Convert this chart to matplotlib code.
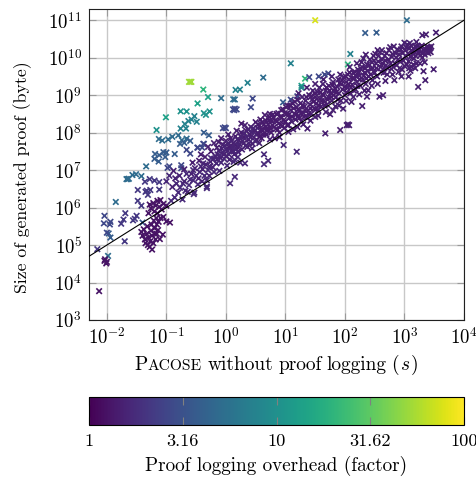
import numpy as np
import matplotlib
matplotlib.use('Agg')
import matplotlib.pyplot as plt
from matplotlib.colors import LogNorm

plt.rcParams['font.family'] = ['cmr10', 'DejaVu Sans']
plt.rcParams['mathtext.fontset'] = 'cm'
plt.rcParams['axes.formatter.use_mathtext'] = True

# all points as (log10 seconds, log10 bytes), one overhead factor per group
outlier_lime = [(-0.62, 9.355), (-0.60, 9.355), (-0.58, 9.355)]
outlier_yellow = [(1.5, 11.0)]
outlier_green = [(-0.38, 9.15), (1.33, 9.44), (2.05, 9.82)]
teal_a = [(-0.30, 8.95), (-1.008, 8.41), (-0.476, 8.78), (1.27, 9.25)]
teal_b = [(-1.165, 8.07), (-0.76, 8.57), (-0.66, 8.565), (-0.37, 8.52), (-0.274, 8.565), (-0.336, 8.475)]
teal_c = [(-0.53, 8.44), (-0.577, 8.35), (-0.63, 8.31), (-0.49, 8.29), (-0.69, 8.23), (-0.76, 8.11),
          (-0.67, 8.11), (0.163, 9.14), (0.235, 9.15), (0.365, 9.33), (1.27, 9.2), (1.09, 9.85), (2.09, 10.1)]
blue_a = [(-0.9, 7.89), (-0.97, 7.82), (-1.126, 7.83), (-1.07, 7.79), (-0.8, 7.93), (-0.74, 7.8), (-0.66, 7.84),
          (0.627, 9.47), (-0.08, 8.92), (0.123, 8.89), (0.15, 8.885), (-1.67, 6.76), (-1.65, 6.76), (-1.63, 6.77),
          (-1.57, 6.87), (-1.51, 6.89), (-1.42, 6.84), (-1.85, 6.15), (-1.34, 7.1), (-1.98, 4.71), (3.04, 11.0)]
blue_b = [(-0.77, 7.7), (-0.7, 7.73), (-0.6, 7.78), (-1.19, 7.43), (-1.05, 7.48), (-1.0, 7.47), (-1.12, 7.4),
          (-1.2, 7.3), (-1.02, 7.35), (-0.86, 7.43), (-1.13, 7.23), (-0.37, 8.0), (-0.286, 7.93), (2.34, 10.66),
          (2.53, 10.67), (0.96, 8.81), (-1.97, 5.31), (-1.94, 5.2), (-1.4, 5.6)]
indigo = [(0.45, 8.91), (0.12, 8.62), (0.15, 8.64), (0.18, 8.62), (0.14, 8.6), (0.42, 8.68), (-0.02, 8.14), (-0.05, 8.12),
          (0.0, 8.12), (-0.48, 7.6), (-0.37, 7.7), (-0.4, 7.6), (-0.95, 7.1), (-0.98, 7.06), (-0.75, 7.13), (-0.75, 7.05),
          (-0.66, 7.54), (-0.6, 7.44), (-2.04, 5.78), (-2.05, 5.58), (-1.94, 5.62), (-1.95, 5.55), (-2.0, 5.33),
          (-0.38, 7.7), (-0.47, 7.6), (1.2, 8.97), (1.09, 8.88), (1.4, 9.48), (1.56, 9.5), (1.72, 9.58), (1.66, 9.55)]
low_left = [(-1.69, 5.85), (-1.72, 5.68), (-1.76, 5.57), (-1.53, 5.7), (-1.5, 5.78), (-1.56, 5.66), (-1.7, 5.1),
            (-2.16, 4.89), (-1.48, 6.47), (-1.48, 6.18), (-1.42, 6.05), (-1.36, 6.69), (-1.28, 6.76), (-1.2, 6.72),
            (-1.12, 6.68), (-1.33, 6.45), (-1.27, 6.47), (-1.31, 6.34), (-1.35, 6.42), (-1.12, 6.48)]
cluster_dark = [(-2.03, 4.62), (-2.0, 4.55), (-2.01, 4.51), (-2.04, 4.58), (-2.13, 3.77), (-1.42, 5.35), (-1.40, 5.25),
                (-1.38, 5.42), (-1.36, 5.15), (-1.35, 5.05), (-1.33, 5.3), (-1.32, 5.5), (-1.31, 5.0), (-1.30, 5.2),
                (-1.28, 4.95), (-1.27, 5.1), (-1.26, 5.38), (-1.25, 5.55), (-1.24, 4.88), (-1.24, 5.25), (-1.22, 5.05),
                (-1.21, 5.65), (-1.20, 5.45), (-1.19, 5.3), (-1.18, 5.15), (-1.17, 5.72), (-1.16, 5.55), (-1.16, 5.3),
                (-1.14, 5.4), (-1.13, 5.62), (-1.11, 5.16), (-1.1, 5.72), (-1.06, 5.28), (-1.05, 5.75), (-1.0, 5.63),
                (-0.94, 5.6), (-1.3, 5.85), (-1.26, 5.98), (-1.2, 5.9), (-1.15, 5.85), (-1.28, 6.08), (-1.18, 6.05),
                (-1.12, 6.02), (-1.08, 5.95), (-1.05, 6.1), (-1.15, 6.18), (-1.1, 6.2), (-1.0, 6.05), (-1.22, 6.12)]
band_a = [(-1.0, 6.7), (-0.95, 6.85), (-0.92, 6.18), (-0.86, 6.27), (-0.83, 6.64), (-0.8, 6.4), (-0.77, 6.53), (-0.73, 6.22),
          (-0.72, 6.64), (-0.68, 6.45), (-0.66, 6.9), (-0.62, 6.6), (-0.6, 6.75), (-0.55, 6.73), (-0.55, 7.0), (-0.53, 6.4),
          (-0.5, 6.85), (-0.47, 6.62), (-0.44, 6.95), (-0.42, 7.1), (-0.38, 7.18), (-0.36, 6.85), (-0.32, 6.73), (-0.32, 6.56),
          (-0.3, 7.0), (-0.27, 7.1), (-0.25, 7.32), (-0.21, 7.3), (-0.2, 6.95), (-0.16, 7.18), (-0.14, 7.42), (-0.11, 6.98),
          (-0.1, 7.4), (-0.08, 7.2), (-0.05, 7.48), (-0.03, 7.3), (0.0, 7.55), (0.02, 7.12), (0.07, 6.65), (0.05, 7.42),
          (0.08, 7.62), (0.13, 7.22), (0.15, 6.82), (0.15, 7.27), (0.13, 7.5), (0.2, 7.35), (0.24, 7.2), (0.18, 7.68),
          (0.32, 7.18), (-0.54, 6.36), (-0.32, 6.52), (0.64, 7.42), (0.71, 7.25), (0.64, 7.16), (0.97, 7.67), (1.19, 7.49)]
band_b = [(-0.45, 7.25), (-0.35, 7.35), (-0.25, 7.5), (-0.15, 7.6), (-0.12, 7.75), (-0.05, 7.68), (0.0, 7.78), (0.05, 7.62),
          (0.08, 7.85), (0.12, 7.72), (0.16, 7.9), (0.2, 7.6), (0.22, 7.8), (0.26, 8.0), (0.26, 8.24), (0.3, 7.72), (0.3, 7.88),
          (0.34, 8.05), (0.36, 7.62), (0.38, 7.82), (0.4, 7.95), (0.42, 8.15), (0.45, 7.7), (0.47, 7.88), (0.48, 8.05), (0.5, 8.28),
          (0.52, 7.8), (0.55, 7.98), (0.56, 8.18), (0.58, 8.35), (0.6, 7.85), (0.62, 8.05), (0.64, 8.22), (0.655, 8.47), (0.68, 7.95),
          (0.7, 8.12), (0.72, 8.32), (0.74, 8.5), (0.76, 8.0), (0.78, 8.2), (0.8, 8.4), (0.82, 7.85), (0.84, 8.1), (0.86, 8.3),
          (0.88, 8.52), (0.9, 8.0), (0.92, 8.2), (0.94, 8.4), (0.96, 8.62), (0.98, 8.12), (1.0, 8.3), (1.02, 8.5), (1.04, 8.72)]
band_c = [(1.05, 8.2), (1.07, 8.4), (1.09, 8.6), (1.1, 8.3), (1.12, 8.78), (1.13, 8.09), (1.15, 8.5), (1.17, 8.35), (1.19, 8.68),
          (1.2, 8.88), (1.22, 8.45), (1.24, 8.6), (1.25, 8.78), (1.27, 8.3), (1.28, 8.95), (1.3, 8.52), (1.32, 8.7), (1.34, 8.85),
          (1.36, 8.4), (1.37, 8.11), (1.38, 8.6), (1.4, 9.0), (1.41, 8.75), (1.43, 8.5), (1.45, 8.88), (1.46, 9.12), (1.48, 8.65),
          (1.5, 8.42), (1.5, 8.95), (1.52, 8.78), (1.54, 9.08), (1.55, 8.6), (1.57, 9.2), (1.58, 8.9), (1.6, 8.7), (1.62, 9.02),
          (1.63, 9.3), (1.65, 8.85), (1.67, 7.98), (1.68, 9.12), (1.7, 8.75), (1.72, 8.95), (1.73, 9.25), (1.75, 8.49), (1.76, 9.05),
          (1.78, 8.85), (1.8, 9.35), (1.82, 9.1), (1.84, 8.7), (1.85, 8.95), (1.87, 9.22), (1.89, 9.42), (1.9, 9.05), (1.92, 8.07),
          (1.93, 8.85), (1.94, 9.3), (1.96, 9.15), (1.97, 8.64), (1.98, 9.48), (2.0, 9.0), (2.02, 9.35), (2.03, 8.2), (2.05, 8.22),
          (2.07, 8.2), (2.04, 9.2), (2.05, 9.55), (2.07, 9.42), (2.09, 9.05), (2.11, 8.82), (2.12, 9.28), (2.14, 9.6), (2.16, 9.45)]
band_d = [(2.18, 9.15), (2.2, 9.35), (2.22, 9.68), (2.24, 9.52), (2.26, 9.25), (2.29, 8.71), (2.29, 9.75), (2.3, 9.42), (2.31, 9.98),
          (2.33, 9.6), (2.35, 9.3), (2.37, 8.96), (2.37, 9.82), (2.39, 9.13), (2.4, 9.5), (2.42, 9.95), (2.44, 9.7), (2.46, 9.4),
          (2.48, 10.05), (2.5, 9.6), (2.52, 9.85), (2.54, 9.5), (2.55, 10.2), (2.58, 8.96), (2.59, 10.15), (2.6, 9.75), (2.62, 9.95),
          (2.64, 9.0), (2.65, 9.6), (2.67, 10.05), (2.69, 9.8), (2.71, 9.55), (2.73, 9.95), (2.76, 10.28), (2.78, 9.7), (2.8, 10.1),
          (2.83, 9.4), (2.84, 9.85), (2.86, 10.0), (2.88, 10.22), (2.9, 9.62), (2.93, 9.9), (2.95, 10.3), (2.97, 10.12), (3.0, 9.78),
          (3.02, 10.05), (3.05, 10.35), (3.07, 9.5), (3.07, 9.9), (3.09, 10.39), (3.12, 9.75), (3.13, 10.18), (3.16, 9.98), (3.18, 10.3),
          (3.2, 9.85), (3.23, 9.22), (3.24, 10.12), (3.27, 10.28), (3.3, 10.0), (3.3, 10.6), (3.32, 9.64), (3.33, 10.2), (3.35, 9.4),
          (3.36, 10.62), (3.38, 10.28), (3.4, 10.12), (3.43, 10.25), (3.45, 10.3), (3.49, 9.69), (3.53, 10.67)]
# second pass over the dense part of the band
band_e = [(-0.9, 6.55), (-0.85, 6.78), (-0.78, 6.85), (-0.7, 6.7), (-0.64, 6.42), (-0.58, 6.9), (-0.52, 7.05), (-0.46, 6.78), (-0.4, 6.7),
          (-0.39, 7.02), (-0.34, 7.15), (-0.28, 6.85), (-0.26, 7.22), (-0.22, 7.08), (-0.18, 7.38), (-0.15, 7.28), (-0.12, 7.52), (-0.09, 7.32),
          (-0.07, 7.58), (-0.04, 7.42), (-0.02, 7.65), (0.01, 7.38), (0.03, 7.52), (0.04, 7.72), (0.06, 7.28), (0.09, 7.5), (0.1, 7.78), (0.11, 7.62),
          (0.14, 7.42), (0.17, 7.58), (0.19, 7.82), (0.21, 7.48), (0.23, 7.68), (0.25, 7.9), (0.27, 7.55), (0.28, 7.78), (0.31, 7.98), (0.33, 7.65),
          (0.35, 7.88), (0.37, 8.08), (0.39, 7.72), (0.41, 7.88), (0.43, 8.02), (0.44, 7.58), (0.46, 8.12), (0.49, 7.78), (0.51, 7.95), (0.53, 8.12)]
band_f = [(0.54, 8.22), (0.57, 7.9), (0.59, 8.08), (0.61, 8.28), (0.63, 7.95), (0.66, 8.15), (0.67, 8.32), (0.69, 8.05), (0.71, 8.22), (0.73, 8.42),
          (0.75, 8.1), (0.77, 8.3), (0.79, 8.48), (0.81, 8.15), (0.83, 8.33), (0.85, 8.5), (0.87, 8.08), (0.89, 8.25), (0.91, 8.42), (0.93, 8.6),
          (0.95, 8.18), (0.97, 8.33), (0.99, 8.52), (1.01, 8.68), (1.03, 8.2), (1.06, 8.48), (1.08, 8.72), (1.11, 8.42), (1.14, 8.65), (1.16, 8.82),
          (1.18, 8.48), (1.21, 8.62), (1.23, 8.38), (1.26, 8.52), (1.29, 8.72), (1.31, 8.42), (1.33, 8.6), (1.35, 8.95), (1.39, 8.5), (1.42, 8.65),
          (1.44, 8.98), (1.47, 8.82), (1.49, 9.05), (1.51, 8.62), (1.53, 8.9), (1.56, 8.72), (1.59, 9.08), (1.61, 8.85), (1.64, 9.0), (1.66, 8.72),
          (1.69, 9.2), (1.71, 8.88), (1.74, 9.12), (1.77, 8.95), (1.79, 9.28), (1.81, 9.0), (1.83, 9.18), (1.86, 9.08), (1.88, 8.88), (1.91, 9.32),
          (1.95, 9.4), (1.99, 9.22), (2.01, 9.5), (2.03, 9.08), (2.06, 9.3), (2.08, 9.6), (2.1, 9.2), (2.13, 9.45), (2.15, 9.12), (2.17, 9.62)]
band_g = [(2.19, 9.5), (2.21, 9.25), (2.23, 9.6), (2.25, 9.42), (2.27, 9.7), (2.28, 9.88), (2.32, 9.52), (2.34, 9.72), (2.36, 9.45), (2.38, 9.65),
          (2.41, 9.8), (2.43, 9.55), (2.45, 9.88), (2.47, 9.72), (2.49, 9.92), (2.51, 10.1), (2.53, 9.72), (2.56, 9.9), (2.57, 10.05), (2.61, 9.62),
          (2.63, 9.85), (2.66, 9.72), (2.68, 9.92), (2.7, 10.12), (2.72, 9.72), (2.74, 10.2), (2.77, 9.85), (2.79, 10.02), (2.81, 9.75), (2.85, 10.12),
          (2.87, 9.8), (2.89, 9.95), (2.91, 10.08), (2.94, 10.22), (2.96, 9.68), (2.98, 9.92), (3.01, 10.2), (3.03, 10.28), (3.04, 9.82), (3.06, 10.12),
          (3.08, 10.25), (3.1, 10.02), (3.11, 10.32), (3.14, 10.1), (3.15, 10.25), (3.17, 10.15), (3.19, 10.05), (3.21, 10.22), (3.22, 10.32), (3.25, 10.2),
          (3.26, 10.05), (3.28, 10.15), (3.29, 10.32), (3.31, 10.12), (3.34, 10.08), (3.37, 10.2), (3.39, 10.22), (3.41, 10.28), (3.42, 10.18), (3.44, 10.15)]
# edges of the band, wider than the first passes
band_h = [(-0.88, 6.98), (-0.7, 7.02), (-0.56, 7.2), (-0.42, 7.42), (-0.3, 7.62), (-0.2, 7.72), (-0.08, 7.85), (0.04, 7.95), (0.18, 8.05), (0.32, 8.2),
          (0.56, 7.72), (0.74, 7.82), (0.9, 7.88), (1.05, 8.02), (1.2, 8.15), (1.3, 8.22), (1.42, 8.32), (1.55, 8.45), (1.68, 8.55), (1.8, 8.6),
          (1.9, 8.72), (2.02, 8.85), (2.14, 8.95), (2.24, 9.02), (2.33, 9.12), (2.45, 9.25), (2.55, 9.3), (2.68, 9.38), (2.8, 9.55), (2.95, 9.5),
          (3.1, 9.65), (3.18, 9.72), (3.26, 9.85), (3.34, 9.88), (1.22, 9.05), (1.36, 9.2), (1.5, 9.3), (1.64, 9.42), (1.78, 9.5), (1.92, 9.55),
          (2.08, 9.75), (2.2, 9.85), (2.35, 10.08), (2.62, 10.2), (2.82, 10.3), (3.0, 10.4), (3.2, 10.42), (2.92, 9.72), (3.08, 9.72), (3.15, 9.82)]

groups = [outlier_lime, outlier_yellow, outlier_green, teal_a, teal_b, teal_c, blue_a, blue_b, indigo, low_left,
          cluster_dark, band_a, band_b, band_c, band_d, band_e, band_f, band_g, band_h]
overheads = [52, 75, 20, 14, 10.5, 7.5, 5, 3.8, 2.7, 2.1, 1.25, 1.7, 1.45, 1.5, 1.5, 1.55, 1.4, 1.45, 1.5]

xticks = [1e-2, 1e-1, 1e0, 1e1, 1e2, 1e3, 1e4]
xticklabels = ['$10^{-2}$', '$10^{-1}$', '$10^{0}$', '$10^{1}$', '$10^{2}$', '$10^{3}$', '$10^{4}$']
yticks = [1e3, 1e4, 1e5, 1e6, 1e7, 1e8, 1e9, 1e10, 1e11]
yticklabels = ['$10^{3}$', '$10^{4}$', '$10^{5}$', '$10^{6}$', '$10^{7}$', '$10^{8}$', '$10^{9}$', '$10^{10}$', '$10^{11}$']
cbar_ticks = [1, 3.16, 10, 31.62, 100]
cbar_labels = ['1', '3.16', '10', '31.62', '100']

W, H = 477, 479
fig = plt.figure(figsize=(W / 100, H / 100), dpi=100)
ax = fig.add_axes([89 / W, 1 - 320 / H, 375 / W, 311 / H])

lx, ly, ov = [], [], []
for g, o in zip(groups, overheads):
    for a, b in g:
        lx.append(a)
        ly.append(b)
        ov.append(o)
lx, ly, ov = np.array(lx), np.array(ly), np.array(ov)

norm = LogNorm(vmin=1, vmax=100)
sc = ax.scatter(10.0 ** lx, 10.0 ** ly, c=ov, cmap='viridis', norm=norm, marker='x', s=16, linewidths=1.2, zorder=3)

# diagonal: 1 s corresponds to 1e7 bytes
line_x = np.array([10 ** -2.3, 1e4])
ax.plot(line_x, line_x * 1e7, color='black', lw=0.8, zorder=4)

ax.set_xscale('log')
ax.set_yscale('log')
ax.set_xlim(10 ** -2.3, 1e4)
ax.set_ylim(1e3, 10 ** 11.3)
ax.set_xticks(xticks)
ax.set_xticklabels(xticklabels)
ax.set_yticks(yticks)
ax.set_yticklabels(yticklabels)
ax.minorticks_off()
ax.grid(True, color='#c8c8c8', lw=1.0, zorder=0)
ax.set_axisbelow(True)
ax.tick_params(axis='both', which='major', direction='in', top=True, right=True, length=5, width=0.8,
               color='#9a9a9a', labelsize=13.5, pad=5)
for s in ax.spines.values():
    s.set_linewidth(0.8)
    s.set_color('#202020')
ax.set_ylabel('Size of generated proof (byte)', fontsize=12.8)
ax.yaxis.set_label_coords(-0.152, 0.46)

# small caps name, pieces placed one after the other
fig.canvas.draw()
rend = fig.canvas.get_renderer()
pos = 134.0
base = 1 - 370 / H
for txt, fs, gap in [('P', 14, 0), ('ACOSE', 11.2, 0.5), ('without', 14, 5.5), ('proof', 14, 5),
                     ('logging', 14, 5), ('(', 14, 5), ('$s$', 14, 0.5), (')', 14, 0.5)]:
    t = fig.text((pos + gap) / W, base, txt, fontsize=fs, va='baseline', ha='left')
    pos = t.get_window_extent(rend).x1

cax = fig.add_axes([89 / W, 1 - 425 / H, 375 / W, 28 / H])
cb = fig.colorbar(sc, cax=cax, orientation='horizontal')
cb.set_ticks(cbar_ticks)
cb.set_ticklabels(cbar_labels)
cax.minorticks_off()
cax.tick_params(axis='x', which='major', direction='in', top=True, bottom=True, length=5.5, width=0.8,
                color='#808080', labelsize=13.2, pad=6)
cb.outline.set_linewidth(0.8)
cb.set_label('Proof logging overhead (factor)', fontsize=13.8, labelpad=5)

fig.savefig('out.png', dpi=100)
